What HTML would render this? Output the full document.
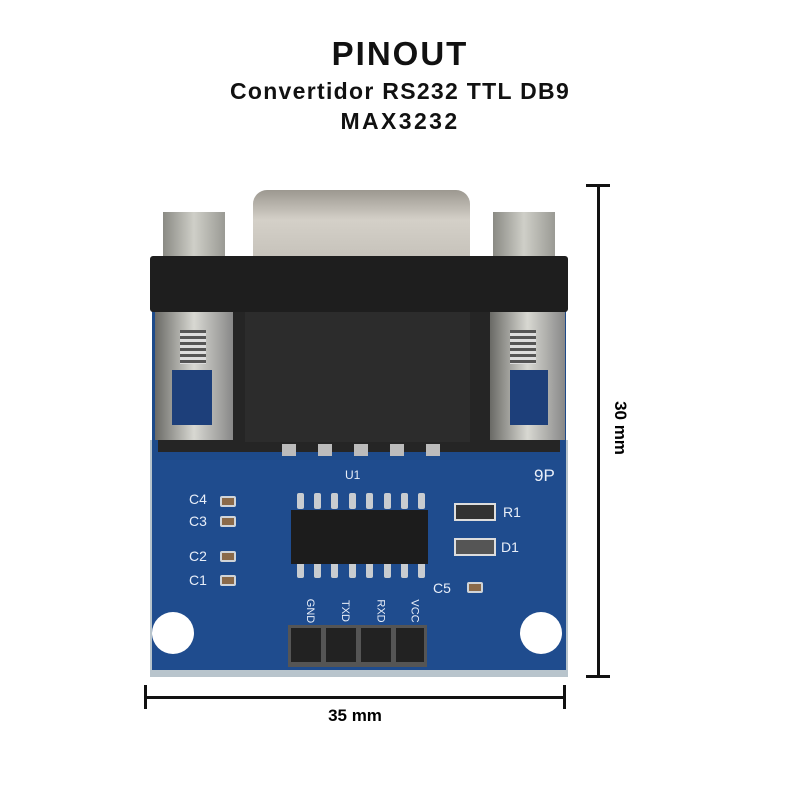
<!DOCTYPE html>
<html><head><style>
body{margin:0;width:800px;height:800px;background:#fff;position:relative;overflow:hidden;font-family:"Liberation Sans",sans-serif}
.a{position:absolute}
.t{position:absolute;left:0;width:800px;text-align:center;font-weight:bold;color:#111}
.l{position:absolute;color:#e8eef8;font-size:14px}
.pin{position:absolute;width:7px;height:16px;background:#c8ccd0;border-radius:2px}
.cap{position:absolute;width:12px;height:7px;background:#8a6a4a;border:2px solid #d0d4d8;border-radius:2px}
.pl{position:absolute;color:#e8eef8;font-size:11px;transform:rotate(90deg)}
</style></head><body>
<div class="t" style="top:35px;font-size:33px;letter-spacing:2px">PINOUT</div>
<div class="t" style="top:78px;font-size:23px;letter-spacing:1.3px">Convertidor RS232 TTL DB9</div>
<div class="t" style="top:108px;font-size:23px;letter-spacing:2.4px">MAX3232</div>

<!-- board -->
<div class="a" style="left:150px;top:440px;width:418px;height:237px;background:#b8c4cc"></div>
<div class="a" style="left:152px;top:440px;width:414px;height:230px;background:#1f4c8e"></div>
<div class="a" style="left:152px;top:300px;width:414px;height:160px;background:#1d4a8a"></div>
<!-- standoffs -->
<div class="a" style="left:163px;top:212px;width:62px;height:48px;background:linear-gradient(90deg,#8a8a84,#cfcfc8,#9a9a94)"></div>
<div class="a" style="left:493px;top:212px;width:62px;height:48px;background:linear-gradient(90deg,#8a8a84,#cfcfc8,#9a9a94)"></div>
<!-- shell -->
<div class="a" style="left:253px;top:190px;width:217px;height:75px;border-radius:14px 14px 0 0;background:linear-gradient(180deg,#9c9890,#d4d0c8 40%,#c4c0b8)"></div>
<!-- housing -->
<div class="a" style="left:150px;top:256px;width:418px;height:56px;background:#1e1e1e;border-radius:3px"></div>
<div class="a" style="left:158px;top:312px;width:402px;height:140px;background:#252525"></div>
<div class="a" style="left:245px;top:312px;width:225px;height:130px;background:#2c2c2c"></div>
<!-- screws hardware -->
<div class="a" style="left:155px;top:312px;width:78px;height:128px;background:linear-gradient(90deg,#6a6a66,#d8d8d2,#888)"></div>
<div class="a" style="left:172px;top:370px;width:40px;height:55px;background:#1d3f7a"></div>
<div class="a" style="left:180px;top:330px;width:26px;height:34px;background:repeating-linear-gradient(180deg,#555 0 3px,#ddd 3px 6px)"></div>
<div class="a" style="left:490px;top:312px;width:75px;height:128px;background:linear-gradient(90deg,#6a6a66,#d8d8d2,#888)"></div>
<div class="a" style="left:510px;top:370px;width:38px;height:55px;background:#1d3f7a"></div>
<div class="a" style="left:510px;top:330px;width:26px;height:34px;background:repeating-linear-gradient(180deg,#555 0 3px,#ddd 3px 6px)"></div>
<!-- pads under connector -->
<div class="a" style="left:282px;top:444px;width:160px;height:12px;background:repeating-linear-gradient(90deg,#bbb 0 14px,transparent 14px 36px)"></div>

<!-- IC -->
<div class="pin" style="left:297px;top:493px"></div><div class="pin" style="left:314px;top:493px"></div><div class="pin" style="left:331px;top:493px"></div><div class="pin" style="left:349px;top:493px"></div><div class="pin" style="left:366px;top:493px"></div><div class="pin" style="left:384px;top:493px"></div><div class="pin" style="left:401px;top:493px"></div><div class="pin" style="left:418px;top:493px"></div>
<div class="pin" style="left:297px;top:562px"></div><div class="pin" style="left:314px;top:562px"></div><div class="pin" style="left:331px;top:562px"></div><div class="pin" style="left:349px;top:562px"></div><div class="pin" style="left:366px;top:562px"></div><div class="pin" style="left:384px;top:562px"></div><div class="pin" style="left:401px;top:562px"></div><div class="pin" style="left:418px;top:562px"></div>
<div class="a" style="left:291px;top:510px;width:137px;height:54px;background:#1c1c1c"></div>
<!-- caps -->
<div class="cap" style="left:220px;top:496px"></div>
<div class="cap" style="left:220px;top:516px"></div>
<div class="cap" style="left:220px;top:551px"></div>
<div class="cap" style="left:220px;top:575px"></div>
<div class="cap" style="left:467px;top:582px"></div>
<div class="a" style="left:454px;top:503px;width:38px;height:14px;border:2px solid #ddd;background:#333"></div>
<div class="a" style="left:454px;top:538px;width:38px;height:14px;border:2px solid #ddd;background:#555"></div>
<div class="l" style="left:189px;top:491px">C4</div>
<div class="l" style="left:189px;top:513px">C3</div>
<div class="l" style="left:189px;top:548px">C2</div>
<div class="l" style="left:189px;top:572px">C1</div>
<div class="l" style="left:433px;top:580px">C5</div>
<div class="l" style="left:503px;top:504px">R1</div>
<div class="l" style="left:501px;top:539px">D1</div>
<div class="l" style="left:345px;top:468px;font-size:12px">U1</div>
<div class="l" style="left:534px;top:466px;font-size:17px">9P</div>
<div class="pl" style="left:298px;top:605px">GND</div>
<div class="pl" style="left:334px;top:605px">TXD</div>
<div class="pl" style="left:369px;top:605px">RXD</div>
<div class="pl" style="left:403px;top:605px">VCC</div>
<!-- holes -->
<div class="a" style="left:152px;top:612px;width:42px;height:42px;border-radius:50%;background:#fff"></div>
<div class="a" style="left:520px;top:612px;width:42px;height:42px;border-radius:50%;background:#fff"></div>
<!-- header -->
<div class="a" style="left:288px;top:625px;width:139px;height:42px;background:#555"></div>
<div class="a" style="left:291px;top:628px;width:30px;height:34px;background:#222"></div>
<div class="a" style="left:326px;top:628px;width:30px;height:34px;background:#222"></div>
<div class="a" style="left:361px;top:628px;width:30px;height:34px;background:#222"></div>
<div class="a" style="left:396px;top:628px;width:28px;height:34px;background:#222"></div>

<!-- dimensions -->
<div class="a" style="left:597px;top:185px;width:3px;height:492px;background:#111"></div>
<div class="a" style="left:586px;top:184px;width:24px;height:3px;background:#111"></div>
<div class="a" style="left:586px;top:675px;width:24px;height:3px;background:#111"></div>
<div class="a" style="left:580px;top:418px;width:80px;font-weight:bold;font-size:17px;transform:rotate(90deg);text-align:center">30 mm</div>
<div class="a" style="left:145px;top:696px;width:420px;height:3px;background:#111"></div>
<div class="a" style="left:144px;top:685px;width:3px;height:24px;background:#111"></div>
<div class="a" style="left:563px;top:685px;width:3px;height:24px;background:#111"></div>
<div class="a" style="left:300px;top:706px;width:110px;text-align:center;font-weight:bold;font-size:17px">35 mm</div>
</body></html>
